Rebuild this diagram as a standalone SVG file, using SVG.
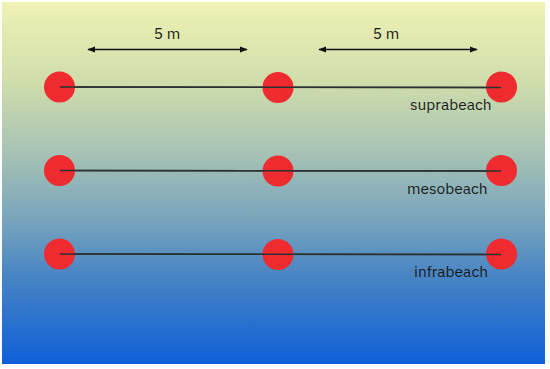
<svg xmlns="http://www.w3.org/2000/svg" width="550" height="369" viewBox="0 0 550 369">
  <defs>
    <linearGradient id="bg" x1="0" y1="0" x2="0" y2="1">
      <stop offset="0" stop-color="#eff2b3"/>
      <stop offset="0.22" stop-color="#d0ddab"/>
      <stop offset="0.42" stop-color="#a5c2b4"/>
      <stop offset="0.6" stop-color="#79a5bd"/>
      <stop offset="0.75" stop-color="#4a86c3"/>
      <stop offset="1" stop-color="#0f5fd8"/>
    </linearGradient>
    <marker id="ah" viewBox="0 0 10 10" refX="9" refY="5" markerWidth="5" markerHeight="5" orient="auto-start-reverse">
      <path d="M0,1 L10,5 L0,9 z" fill="#111"/>
    </marker>
    <style>
      .dot { fill: #ef2b2f; }
      .line { stroke: #2b3030; stroke-width: 1.5; fill: none; }
      .dim { stroke: #111; stroke-width: 1.6; fill: none; }
      .lbl { font-family: "IBM Plex Sans", "Liberation Sans", Arial, sans-serif; font-size: 15.5px; fill: #1a1a1a; }
    </style>
  </defs>
  <rect x="0" y="0" width="550" height="369" fill="#ffffff"/>
  <rect x="2" y="2" width="543" height="362" fill="url(#bg)"/>

  <g id="connectors">
    <line class="line" x1="60" y1="87" x2="501" y2="87.5"/>
    <line class="line" x1="60" y1="170.5" x2="501" y2="171"/>
    <line class="line" x1="60" y1="254" x2="501" y2="254.5"/>
    <line class="dim" x1="88" y1="49.5" x2="247" y2="49.5" marker-start="url(#ah)" marker-end="url(#ah)"/>
    <line class="dim" x1="319" y1="49.5" x2="477" y2="49.5" marker-start="url(#ah)" marker-end="url(#ah)"/>
  </g>

  <g id="row-supra">
    <circle class="dot" cx="59.5" cy="87" r="15.5"/>
    <circle class="dot" cx="278" cy="87.5" r="15.5"/>
    <circle class="dot" cx="501.5" cy="87" r="15.5"/>
  </g>
  <g id="row-meso">
    <circle class="dot" cx="59.5" cy="170.5" r="15.5"/>
    <circle class="dot" cx="278" cy="171" r="15.5"/>
    <circle class="dot" cx="501.5" cy="170.5" r="15.5"/>
  </g>
  <g id="row-infra">
    <circle class="dot" cx="59.5" cy="254" r="15.5"/>
    <circle class="dot" cx="278" cy="254.5" r="15.5"/>
    <circle class="dot" cx="501.5" cy="254" r="15.5"/>
  </g>

  <g id="lines-over">
    <line class="line" x1="60" y1="87" x2="501" y2="87.5"/>
    <line class="line" x1="60" y1="170.5" x2="501" y2="171"/>
    <line class="line" x1="60" y1="254" x2="501" y2="254.5"/>
  </g>

  <g id="labels">
    <text class="lbl" x="167" y="39" text-anchor="middle">5 m</text>
    <text class="lbl" x="386" y="39" text-anchor="middle">5 m</text>
    <text class="lbl" x="410" y="110">suprabeach</text>
    <text class="lbl" x="407" y="194">mesobeach</text>
    <text class="lbl" x="414" y="277">infrabeach</text>
  </g>
</svg>
